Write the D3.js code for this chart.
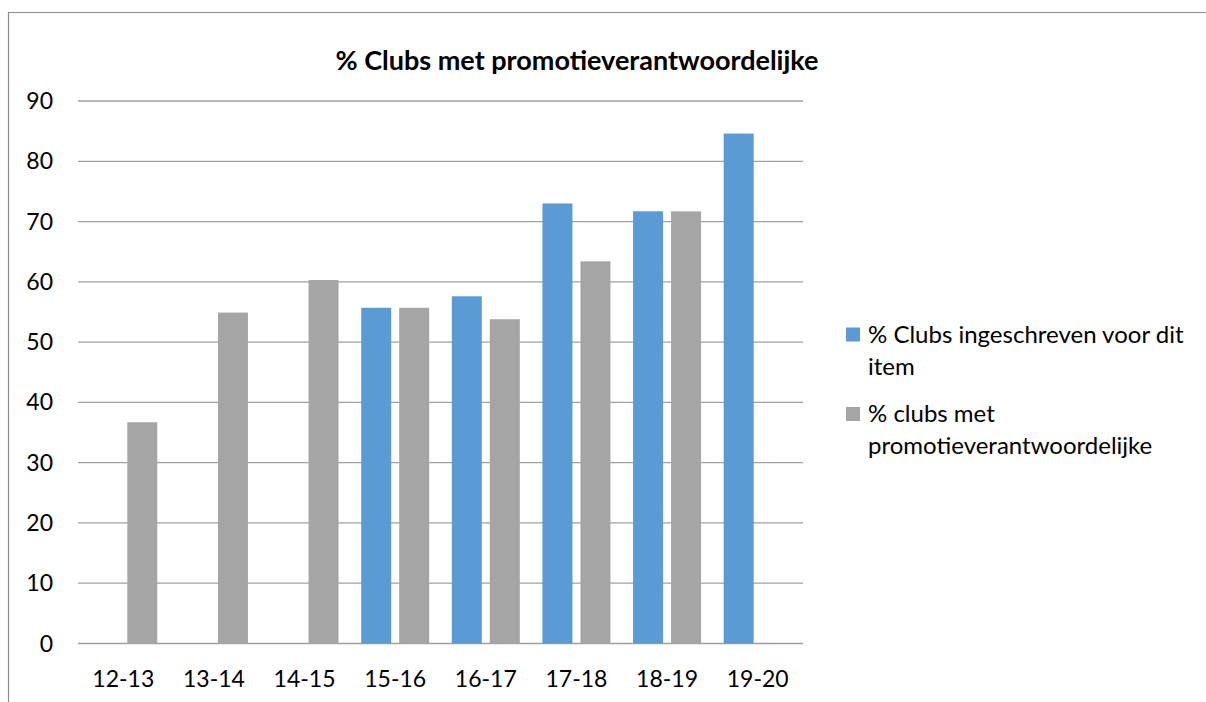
<!DOCTYPE html>
<html>
<head>
<meta charset="utf-8">
<script src="https://cdn.jsdelivr.net/npm/d3@7/dist/d3.min.js"></script>
<style>
  html, body { margin: 0; padding: 0; background: #fff; }
  svg { display: block; }
  text { font-family: Lato, "Open Sans", sans-serif; fill: #000; }
</style>
</head>
<body>
<svg id="chart" width="1206" height="702"></svg>
<script>
// Seasons and percentages per series
const seasons = ["12-13", "13-14", "14-15", "15-16", "16-17", "17-18", "18-19", "19-20"];
const ingeschreven = [null, null, null, 55.7, 57.6, 73.0, 71.7, 84.6];
const promotie = [36.7, 54.9, 60.3, 55.7, 53.8, 63.4, 71.7, null];
const seriesColors = ["#5B9BD5", "#A5A5A5"];
const yTicks = [0, 10, 20, 30, 40, 50, 60, 70, 80, 90];
const title = "% Clubs met promotieverantwoordelijke";
const legendLines = [
  ["% Clubs ingeschreven voor dit", "item"],
  ["% clubs met", "promotieverantwoordelijke"]
];

const svg = d3.select("#chart");

// Outer chart frame (top and left edges visible)
svg.append("path")
  .attr("d", "M8.5,702 V12.5 H1206")
  .attr("fill", "none")
  .attr("stroke", "#8c8c8c")
  .attr("stroke-width", 1.2);

const plot = { left: 78, right: 803, top: 101, bottom: 643.5 };

const x = d3.scaleBand().domain(seasons).range([plot.left, plot.right]).padding(0);
const y = d3.scaleLinear().domain([0, 90]).range([plot.bottom, plot.top]);

const barW = 30, innerGap = 8;

// Gridlines
svg.append("g").selectAll("line").data(yTicks).join("line")
  .attr("x1", plot.left).attr("x2", plot.right)
  .attr("y1", d => y(d)).attr("y2", d => y(d))
  .attr("stroke", "#a0a0a0").attr("stroke-width", 1.3);

// Y-axis labels
svg.append("g").selectAll("text").data(yTicks).join("text")
  .attr("x", 53).attr("y", d => y(d) + 8)
  .attr("text-anchor", "end")
  .attr("font-size", 23)
  .text(d => d);

// X-axis labels
svg.append("g").selectAll("text").data(seasons).join("text")
  .attr("x", d => x(d) + x.bandwidth() / 2).attr("y", 687)
  .attr("text-anchor", "middle")
  .attr("font-size", 23)
  .text(d => d);

// Bars
const series = [ingeschreven, promotie];
series.forEach((vals, si) => {
  const data = seasons.map((s, i) => ({ s, v: vals[i] })).filter(d => d.v != null);
  svg.append("g").selectAll("rect").data(data).join("rect")
    .attr("x", d => {
      const c = x(d.s) + x.bandwidth() / 2;
      return si === 0 ? c - innerGap / 2 - barW : c + innerGap / 2;
    })
    .attr("y", d => y(d.v))
    .attr("width", barW)
    .attr("height", d => y(0) - y(d.v))
    .attr("fill", seriesColors[si]);
});

// Title
svg.append("text")
  .attr("x", 577).attr("y", 70)
  .attr("text-anchor", "middle")
  .attr("font-size", 27)
  .attr("font-weight", "bold")
  .text(title);

// Legend
const legendBase = [342.5, 422];
legendLines.forEach((lines, i) => {
  const g = svg.append("g");
  g.append("rect")
    .attr("x", 846).attr("y", legendBase[i] - 15)
    .attr("width", 14).attr("height", 14)
    .attr("fill", seriesColors[i]);
  g.selectAll("text").data(lines).join("text")
    .attr("x", 868).attr("y", (d, j) => legendBase[i] + j * 32)
    .attr("font-size", 24)
    .text(d => d);
});
</script>
</body>
</html>
